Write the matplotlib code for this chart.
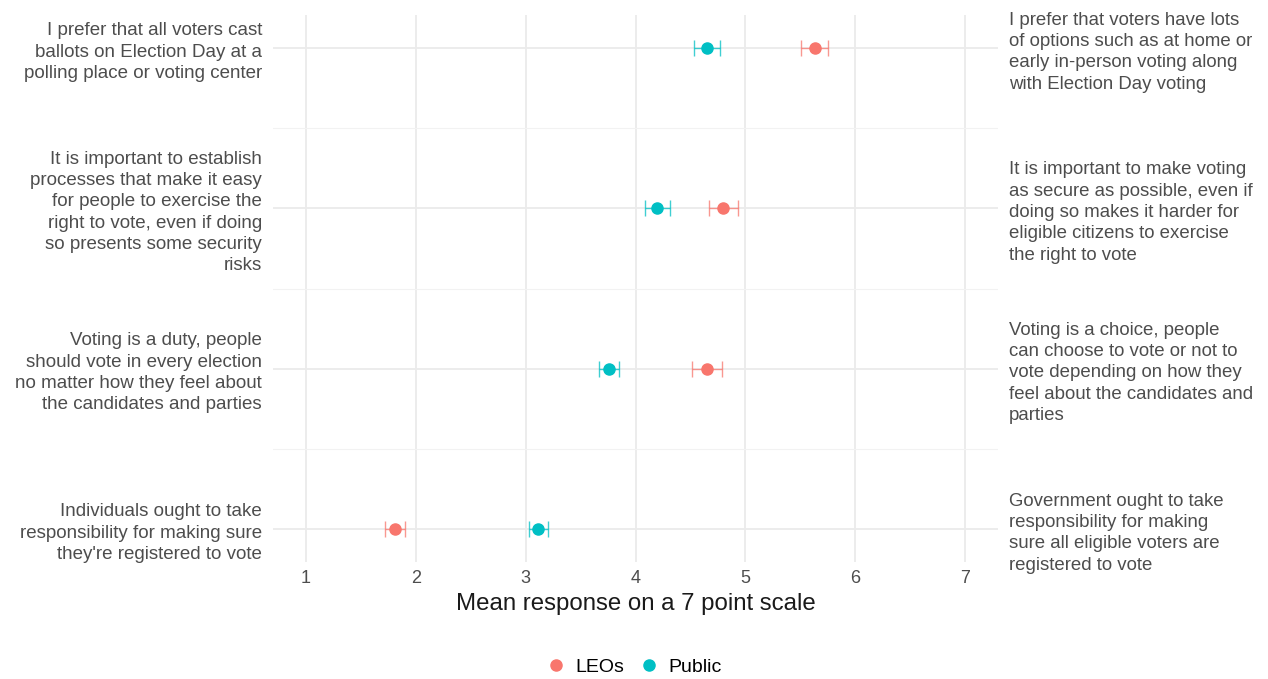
import matplotlib
matplotlib.use("Agg")
import matplotlib.pyplot as plt
import numpy as np

plt.rcParams['font.family'] = ['Liberation Sans', 'DejaVu Sans']

left_labels = [
    "I prefer that all voters cast\nballots on Election Day at a\npolling place or voting center",
    "It is important to establish\nprocesses that make it easy\nfor people to exercise the\nright to vote, even if doing\nso presents some security\nrisks",
    "Voting is a duty, people\nshould vote in every election\nno matter how they feel about\nthe candidates and parties",
    "Individuals ought to take\nresponsibility for making sure\nthey're registered to vote",
]
right_labels = [
    "I prefer that voters have lots\nof options such as at home or\nearly in-person voting along\nwith Election Day voting",
    "It is important to make voting\nas secure as possible, even if\ndoing so makes it harder for\neligible citizens to exercise\nthe right to vote",
    "Voting is a choice, people\ncan choose to vote or not to\nvote depending on how they\nfeel about the candidates and\nparties",
    "Government ought to take\nresponsibility for making\nsure all eligible voters are\nregistered to vote",
]
leos_mean = [5.63, 4.80, 4.65, 1.81]
leos_lo = [5.51, 4.67, 4.51, 1.72]
leos_hi = [5.75, 4.93, 4.79, 1.90]
public_mean = [4.65, 4.20, 3.76, 3.11]
public_lo = [4.53, 4.09, 3.67, 3.03]
public_hi = [4.77, 4.31, 3.85, 3.20]
x_ticks = [1, 2, 3, 4, 5, 6, 7]
series_names = ["LEOs", "Public"]
colors = ["#F8766D", "#00BFC4"]

fig = plt.figure(figsize=(12.68, 6.79), dpi=100)
ax = fig.add_axes([273/1268, 1-562/679, (998-273)/1268, (562-15)/679])

ypos = np.arange(len(left_labels))
pad = 33/160.3
ax.set_ylim(len(left_labels) - 1 + pad, -pad)
ax.set_xlim(0.7, 7.3)

# grid
for x in x_ticks:
    ax.axvline(x, color="#EBEBEB", lw=1.3, zorder=0)
for y in ypos:
    ax.axhline(y, color="#EBEBEB", lw=1.3, zorder=0)
for y in ypos[:-1] + 0.5:
    ax.axhline(y, color="#F2F2F2", lw=0.8, zorder=0)

handles = []
for means, los, his, col, name in [
    (leos_mean, leos_lo, leos_hi, colors[0], series_names[0]),
    (public_mean, public_lo, public_hi, colors[1], series_names[1]),
]:
    means = np.array(means); los = np.array(los); his = np.array(his)
    ax.errorbar(means, ypos, xerr=[means - los, his - means], fmt='none',
                ecolor=col, elinewidth=1.0, capsize=5.5, capthick=1.0, alpha=0.75, zorder=2)
    h = ax.plot(means, ypos, 'o', color=col, markersize=8.0, zorder=3, label=name)[0]
    handles.append(h)

for s in ax.spines.values():
    s.set_visible(False)
ax.set_xticks(x_ticks)
ax.set_xticklabels([str(t) for t in x_ticks])
ax.tick_params(axis='x', length=0, pad=6, labelsize=13, labelcolor="#4D4D4D")
ax.set_yticks(ypos)
ax.set_yticklabels(left_labels)
ax.tick_params(axis='y', length=0, pad=8, labelsize=13.5, labelcolor="#4D4D4D")
for t in ax.get_yticklabels():
    t.set_linespacing(1.33)
ax.set_xlabel("Mean response on a 7 point scale", fontsize=17.3, color="#1A1A1A", labelpad=4)

ax2 = ax.twinx()
ax2.set_ylim(ax.get_ylim())
ax2.set_yticks(ypos)
ax2.set_yticklabels(right_labels)
ax2.tick_params(axis='y', length=0, pad=8, labelsize=13.4, labelcolor="#4D4D4D")
for t in ax2.get_yticklabels():
    t.set_linespacing(1.33)
for s in ax2.spines.values():
    s.set_visible(False)

fig.legend(handles=handles, labels=series_names, loc='center', bbox_to_anchor=(0.5, 1-667/679),
           ncol=2, frameon=False, fontsize=14, handletextpad=0.5, columnspacing=0.8,
           markerscale=1.0, handlelength=1.0)

fig.savefig("out.png", dpi=100, facecolor="white")
